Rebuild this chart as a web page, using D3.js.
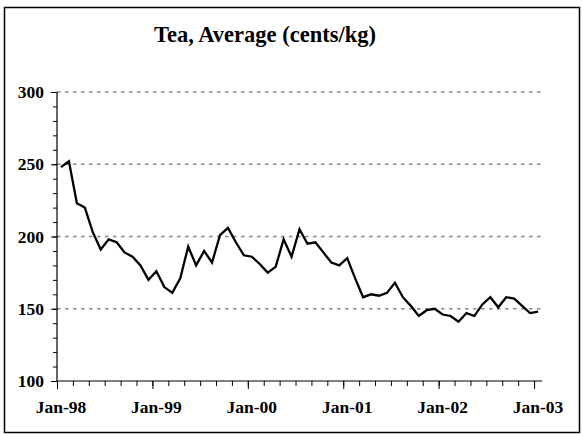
<!DOCTYPE html>
<html>
<head>
<meta charset="utf-8">
<script src="https://cdn.jsdelivr.net/npm/d3@7/dist/d3.min.js"></script>
<style>
  html, body { margin: 0; padding: 0; background: #fff; }
  svg { display: block; }
</style>
</head>
<body>
<svg id="chart" width="583" height="437"></svg>
<script>
// Monthly average tea price, Jan-1998 .. Jan-2003 (cents/kg)
const startMonth = new Date(1998, 0, 1);
const months = d3.timeMonth.range(startMonth, new Date(2003, 1, 1)); // 61 months
const teaPrice = [
  248, 252, 223, 220, 203, 191, 198, 196, 189, 186, 180, 170,
  176, 165, 161, 171, 193, 180, 190, 182, 201, 206, 196, 187,
  186, 181, 175, 179, 198, 186, 205, 195, 196, 189, 182, 180,
  185, 171, 158, 160, 159, 161, 168, 158, 152, 145, 149, 150,
  146, 145, 141, 147, 145, 153, 158, 151, 158, 157, 152, 147,
  148
];
const xTickLabels = ["Jan-98", "Jan-99", "Jan-00", "Jan-01", "Jan-02", "Jan-03"];
const yTickValues = [100, 150, 200, 250, 300];
const chartTitle = "Tea, Average (cents/kg)";

const svg = d3.select("#chart");
const serif = "'Liberation Serif', 'Times New Roman', serif";

// outer frame
svg.append("rect")
  .attr("x", 4.5).attr("y", 7.5)
  .attr("width", 575).attr("height", 425)
  .attr("fill", "none").attr("stroke", "#000").attr("stroke-width", 1.5);

// title
svg.append("text")
  .attr("x", 265).attr("y", 42)
  .attr("text-anchor", "middle")
  .attr("font-family", serif).attr("font-weight", "bold")
  .attr("font-size", 22.5)
  .text(chartTitle);

const plot = { left: 57, right: 542, top: 92, bottom: 381 };

// category boundaries: one slot per month, points sit mid-slot
const x = d3.scaleLinear().domain([0, months.length]).range([plot.left, plot.right]);
const y = d3.scaleLinear().domain([100, 300]).range([plot.bottom, plot.top]);

// dashed gridlines
svg.append("g")
  .selectAll("line")
  .data(yTickValues.filter(v => v > 100))
  .join("line")
  .attr("x1", plot.left).attr("x2", plot.right)
  .attr("y1", d => y(d)).attr("y2", d => y(d))
  .attr("stroke", "#888").attr("stroke-width", 1.5)
  .attr("stroke-dasharray", "3.5,4.5");

// y axis: minor ticks every 10, major every 50 with labels
const yMinor = svg.append("g")
  .attr("transform", `translate(${plot.left},0)`)
  .call(d3.axisLeft(y).tickValues(d3.range(100, 301, 10)).tickSize(4).tickFormat(""));
const yMajor = svg.append("g")
  .attr("transform", `translate(${plot.left},0)`)
  .call(d3.axisLeft(y).tickValues(yTickValues).tickSize(6).tickPadding(7).tickFormat(d3.format("d")));

// x axis: minor ticks every 2 months, major every year
const xMinor = svg.append("g")
  .attr("transform", `translate(0,${plot.bottom})`)
  .call(d3.axisBottom(x).tickValues(d3.range(0, months.length, 2)).tickSize(5).tickFormat(""));
const xMajor = svg.append("g")
  .attr("transform", `translate(0,${plot.bottom})`)
  .call(d3.axisBottom(x).tickValues(d3.range(0, months.length, 12)).tickSize(8).tickFormat(""));

[yMinor, yMajor, xMinor, xMajor].forEach(g => {
  g.select(".domain").attr("stroke", "#000").attr("stroke-width", 1.2);
  g.selectAll(".tick line").attr("stroke", "#000").attr("stroke-width", 1);
});
xMinor.select(".domain").remove();
xMajor.select(".domain").attr("d", `M${plot.left},0H${plot.right}`);
yMinor.select(".domain").remove();
yMajor.select(".domain").attr("d", `M0,${plot.top}V${plot.bottom}`);

yMajor.selectAll(".tick text")
  .attr("font-family", serif).attr("font-weight", "bold")
  .attr("font-size", 17.5).attr("fill", "#000");

// yearly category labels, centred on their month slot
svg.append("g")
  .selectAll("text")
  .data(xTickLabels)
  .join("text")
  .attr("x", (d, i) => x(i * 12 + 0.5))
  .attr("y", 413)
  .attr("text-anchor", "middle")
  .attr("font-family", serif).attr("font-weight", "bold")
  .attr("font-size", 17.5)
  .text(d => d);

// price line
const line = d3.line()
  .x((d, i) => x(i + 0.5))
  .y(d => y(d));
svg.append("path")
  .datum(teaPrice)
  .attr("d", line)
  .attr("fill", "none")
  .attr("stroke", "#000")
  .attr("stroke-width", 2.3)
  .attr("stroke-linejoin", "miter");
</script>
</body>
</html>
